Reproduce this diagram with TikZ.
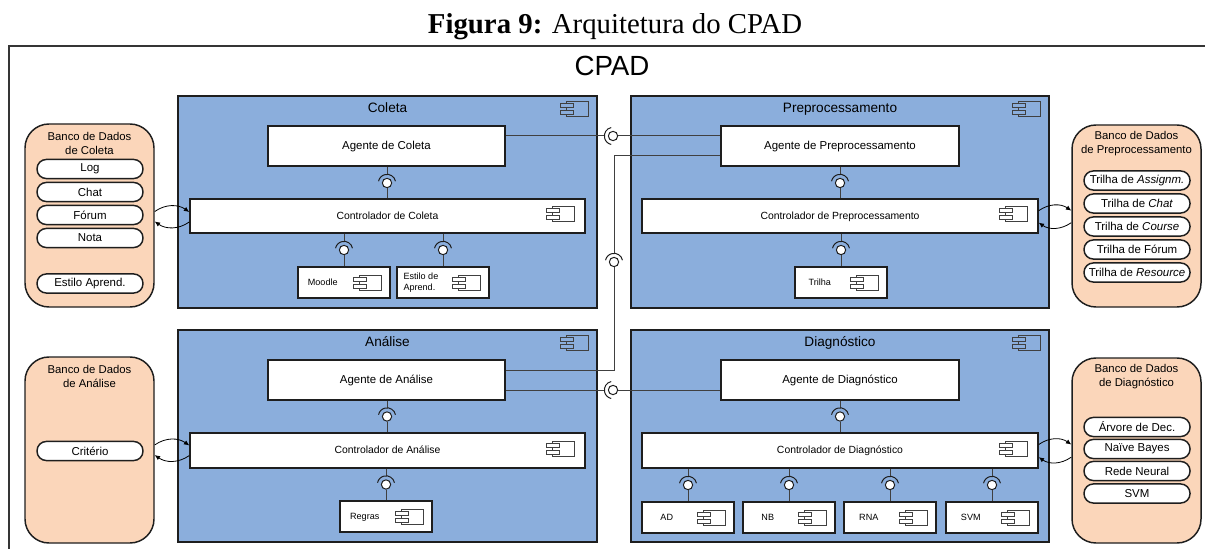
\documentclass[tikz,border=0pt]{standalone}
\usepackage{fontspec}
\setmainfont{Liberation Sans}
\setsansfont{Liberation Sans}
\newfontfamily\capfont{Liberation Serif}
\usetikzlibrary{arrows.meta,fit,calc}
\definecolor{cblue}{RGB}{139,174,220}
\definecolor{cpeach}{RGB}{251,214,186}
\definecolor{cline}{RGB}{30,30,30}
\newcommand\fs[2]{\fontsize{#1pt}{#2pt}\selectfont}
\tikzset{
  fixh/.style={text height=0.72em, text depth=0.22em},
  frame/.style={draw=cline!90, line width=1.2pt},
  pkg/.style={draw=cline, fill=cblue, line width=1.1pt, inner sep=0pt},
  wbox/.style={draw=cline, fill=white, line width=1.1pt, inner sep=0pt, align=center},
  agent/.style={wbox, label={[font=\fs{8.6}{10}, inner sep=0pt, fixh]center:#1}},
  ctrl/.style={wbox, label={[font=\fs{7.8}{9}, inner sep=0pt, fixh]center:#1}},
  subtxt/.style={font=\fs{6.8}{8}, align=left, inner sep=0pt},
  pkgtitle/.style={font=\fs{10.2}{12}, inner sep=0pt, fixh},
  db/.style={draw=cline, fill=cpeach, line width=1.1pt, rounded corners=18pt, inner sep=0pt},
  dbtitle/.style={font=\fs{8.5}{10.5}, align=center, inner sep=0pt},
  item/.style={draw=cline, fill=white, line width=1.1pt, rounded corners=7pt,
    minimum width=79.5pt, minimum height=14.3pt, inner sep=0pt, font=\fs{8.6}{10}},
  ball/.style={circle, draw=cline, fill=white, line width=0.75pt, minimum size=7pt, inner sep=0pt},
  conn/.style={draw=cline!85, line width=0.75pt},
  sock/.style={draw=cline, line width=0.75pt},
  dbarr/.style={draw=black, line width=0.6pt, -{Latex[length=4pt,width=3.6pt]}},
  comp/.pic={
    \draw[draw=cline!85, line width=0.6pt] (-8.25pt,-5.6pt) rectangle (8.25pt,5.6pt);
    \draw[draw=cline!85, line width=0.6pt, pic actions] (-12.75pt,1.1pt) rectangle (-3pt,4.1pt);
    \draw[draw=cline!85, line width=0.6pt, pic actions] (-12.75pt,-4.1pt) rectangle (-3pt,-1.1pt);
  }
}
\newcommand\vbs[3]{%
  \draw[conn] (#1 |- #2.south) -- ([yshift=6.5pt]#1.center);
  \draw[sock] ([shift={(12:6.5pt)}]#1.center) arc[start angle=12, end angle=168, radius=6.5pt];
  \draw[conn] (#1.south) -- (#1 |- #3.north);}
\begin{document}
\begin{tikzpicture}[x=0.75pt, y=0.75pt, font=\sffamily]
\useasboundingbox (0,0) rectangle (1205,-549);
\begin{scope}
\clip (0,0) rectangle (1205,-549);
\draw[frame] (9,-46) rectangle (1240,-590);
\end{scope}
\node[font=\capfont\fs{21.6}{26}, inner sep=0pt] (cap) at (615,-27) {\textbf{Figura 9:} Arquitetura do CPAD};
\node[font=\fs{20.8}{24}, inner sep=0pt] (cpad) at (612,-66) {CPAD};

% packages
\node[pkg, fit={(178,-96)(597,-308)}] (coleta) {};
\node[pkg, fit={(631,-96)(1049,-308)}] (prep) {};
\node[pkg, fit={(178,-330)(597,-542)}] (anal) {};
\node[pkg, fit={(631,-330)(1049,-542)}] (diag) {};
\node[pkgtitle] (coletaT) at ($(coleta.north)+(0,-14)$) {Coleta};
\node[pkgtitle] (prepT) at ($(prep.north)+(0,-14)$) {Preprocessamento};
\node[pkgtitle] (analT) at ($(anal.north)+(0,-14)$) {Análise};
\node[pkgtitle] (diagT) at ($(diag.north)+(0,-14)$) {Diagnóstico};
\foreach \p in {coleta,prep,anal,diag}
  \pic[fill=cblue] at ($(\p.north east)+(-20.5,-13.5)$) {comp};

% agents
\node[agent={Agente de Coleta}, fit={(268,-126)(505,-166)}] (agC) {};
\node[agent={Agente de Preprocessamento}, fit={(721,-126)(959,-166)}] (agP) {};
\node[agent={Agente de Análise}, fit={(268,-360)(505,-400)}] (agA) {};
\node[agent={Agente de Diagnóstico}, fit={(721,-360)(959,-400)}] (agD) {};

% controllers
\node[ctrl={Controlador de Coleta}, fit={(190,-199)(585,-233)}] (ctC) {};
\node[ctrl={Controlador de Preprocessamento}, fit={(642,-199)(1038,-233)}] (ctP) {};
\node[ctrl={Controlador de Análise}, fit={(190,-433)(585,-468)}] (ctA) {};
\node[ctrl={Controlador de Diagnóstico}, fit={(642,-433)(1038,-468)}] (ctD) {};
\foreach \c in {ctC,ctP,ctA,ctD}
  \pic[fill=white] at ($(\c.east)+(-22,2)$) {comp};

% sub components
\node[wbox, fit={(298,-267)(390,-298)}] (moodle) {};
\node[wbox, fit={(397,-267)(489,-298)}] (estilo) {};
\node[wbox, fit={(795,-267)(887,-298)}] (trilha) {};
\node[wbox, fit={(340,-501)(432,-532)}] (regras) {};
\node[wbox, fit={(642,-502)(734,-533)}] (ad) {};
\node[wbox, fit={(743,-502)(835,-533)}] (nb) {};
\node[wbox, fit={(844,-502)(936,-533)}] (rna) {};
\node[wbox, fit={(946,-502)(1038,-533)}] (svm) {};
\foreach \s in {moodle,estilo,trilha,regras,ad,nb,rna,svm}
  \pic[fill=white] at ($(\s.east)+(-20.5,0)$) {comp};
\node[subtxt, fixh] (moodleT) at ($(moodle.west)+(25.5,0)$) {Moodle};
\node[subtxt, anchor=west] (estiloT) at ($(estilo.west)+(7,0)$) {Estilo de\\Aprend.};
\node[subtxt, fixh] (trilhaT) at ($(trilha.west)+(25.5,0)$) {Trilha};
\node[subtxt, fixh] (regrasT) at ($(regras.west)+(25.5,0)$) {Regras};
\node[subtxt, fixh] (adT) at ($(ad.west)+(25.5,0)$) {AD};
\node[subtxt, fixh] (nbT) at ($(nb.west)+(25.5,0)$) {NB};
\node[subtxt, fixh] (rnaT) at ($(rna.west)+(25.5,0)$) {RNA};
\node[subtxt, fixh] (svmT) at ($(svm.west)+(25.5,0)$) {SVM};

% vertical ball-sockets
\node[ball] (bC1) at (387,-183) {};
\node[ball] (bC2) at (344,-250) {};
\node[ball] (bC3) at (443,-250) {};
\node[ball] (bP1) at (840,-183) {};
\node[ball] (bP2) at (841,-250) {};
\node[ball] (bA1) at (387,-416.5) {};
\node[ball] (bA2) at (386,-484.5) {};
\node[ball] (bD1) at (840,-416.5) {};
\node[ball] (bD2) at (688,-485) {};
\node[ball] (bD3) at (789,-485) {};
\node[ball] (bD4) at (890,-485) {};
\node[ball] (bD5) at (992,-485) {};
\vbs{bC1}{agC}{ctC}
\vbs{bC2}{ctC}{moodle}
\vbs{bC3}{ctC}{estilo}
\vbs{bP1}{agP}{ctP}
\vbs{bP2}{ctP}{trilha}
\vbs{bA1}{agA}{ctA}
\vbs{bA2}{ctA}{regras}
\vbs{bD1}{agD}{ctD}
\vbs{bD2}{ctD}{ad}
\vbs{bD3}{ctD}{nb}
\vbs{bD4}{ctD}{rna}
\vbs{bD5}{ctD}{svm}

% horizontal ball-sockets between agents
\node[ball] (bh1) at (613,-136) {};
\node[ball] (bh2) at (613,-390) {};
\node[ball] (bv) at (614,-262) {};
\draw[conn] (agC.east |- bh1) -- ([xshift=-6.5pt]bh1.center);
\draw[sock] ([shift={(102:6.5pt)}]bh1.center) arc[start angle=102, end angle=258, radius=6.5pt];
\draw[conn] (bh1.east) -- (bh1 -| agP.west);
\draw[conn] (agA.east |- bh2) -- ([xshift=-6.5pt]bh2.center);
\draw[sock] ([shift={(102:6.5pt)}]bh2.center) arc[start angle=102, end angle=258, radius=6.5pt];
\draw[conn] (bh2.east) -- (bh2 -| agD.west);
\draw[conn] ([yshift=-7.5pt]agP.west) -| ([yshift=6.5pt]bv.center);
\draw[sock] ([shift={(12:6.5pt)}]bv.center) arc[start angle=12, end angle=168, radius=6.5pt];
\draw[conn] (bv.south) |- ([yshift=7.5pt]agA.east);

% databases
\node[db, fit={(25,-124)(154,-307)}] (dbC) {};
\node[dbtitle] (dbCT) at ($(dbC.north)+(0,-20)$) {Banco de Dados\\de Coleta};
\node[item] (iLog) at (90,-169) {Log};
\node[item] (iChat) at (90,-192) {Chat};
\node[item] (iForum) at (90,-215) {Fórum};
\node[item] (iNota) at (90,-238) {Nota};
\node[item] (iEst) at (90,-283.5) {Estilo Aprend.};

\node[db, fit={(1072,-125)(1201,-307)}] (dbP) {};
\node[dbtitle] (dbPT) at ($(dbP.north)+(0,-19)$) {Banco de Dados\\de Preprocessamento};
\node[item] (tA) at (1137,-180.5) {Trilha de \textit{Assignm.}};
\node[item] (tC) at (1137,-203.5) {Trilha de \textit{Chat}};
\node[item] (tCo) at (1137,-226.5) {Trilha de \textit{Course}};
\node[item] (tF) at (1137,-249.5) {Trilha de Fórum};
\node[item] (tR) at (1137,-272.5) {Trilha de \textit{Resource}};

\node[db, fit={(25,-357)(154,-543)}] (dbA) {};
\node[dbtitle] (dbAT) at ($(dbA.north)+(0,-20.5)$) {Banco de Dados\\de Análise};
\node[item] (iCrit) at (90,-451) {Critério};

\node[db, fit={(1072,-358)(1201,-543)}] (dbD) {};
\node[dbtitle] (dbDT) at ($(dbD.north)+(0,-19.5)$) {Banco de Dados\\de Diagnóstico};
\node[item] (dAD) at (1137,-427) {Árvore de Dec.};
\node[item] (dNB) at (1137,-449) {Naïve Bayes};
\node[item] (dRN) at (1137,-471) {Rede Neural};
\node[item] (dSVM) at (1137,-493.5) {SVM};

% database arrows
\draw[dbarr] ([yshift=3pt]dbC.east) to[out=35,in=145] ([yshift=3pt]ctC.west);
\draw[dbarr] ([yshift=-4.5pt]ctC.west) to[out=-145,in=-35] ([yshift=-4.5pt]dbC.east);
\draw[dbarr] ([yshift=4pt]ctP.east) to[out=35,in=145] ([yshift=4pt]dbP.west);
\draw[dbarr] ([yshift=-5pt]dbP.west) to[out=-145,in=-35] ([yshift=-5pt]ctP.east);
\draw[dbarr] ([yshift=3.8pt]dbA.east) to[out=35,in=145] ([yshift=3.8pt]ctA.west);
\draw[dbarr] ([yshift=-3.8pt]ctA.west) to[out=-145,in=-35] ([yshift=-3.8pt]dbA.east);
\draw[dbarr] ([yshift=4.5pt]ctD.east) to[out=35,in=145] ([yshift=4.5pt]dbD.west);
\draw[dbarr] ([yshift=-5pt]dbD.west) to[out=-145,in=-35] ([yshift=-5pt]ctD.east);
\end{tikzpicture}
\end{document}
